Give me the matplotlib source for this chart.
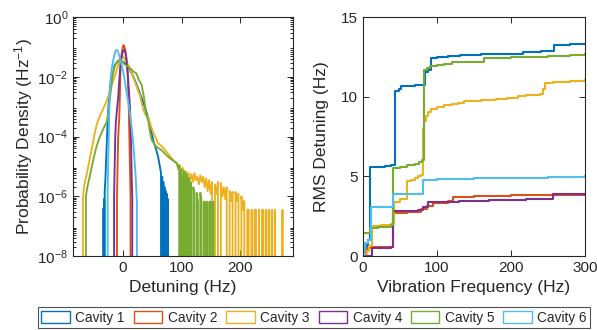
import numpy as np
import matplotlib
matplotlib.use("Agg")
import matplotlib.pyplot as plt
from matplotlib.patches import Patch
from matplotlib.ticker import LogLocator, NullFormatter, FixedLocator

plt.rcParams['font.family'] = ['Liberation Sans', 'DejaVu Sans']
plt.rcParams['mathtext.fontset'] = 'custom'
plt.rcParams['mathtext.rm'] = 'Liberation Sans'
plt.rcParams['mathtext.it'] = 'Liberation Sans:italic'

labels = ["Cavity 1", "Cavity 2", "Cavity 3", "Cavity 4", "Cavity 5", "Cavity 6"]
colors = ["#0072BD", "#D95319", "#EDB120", "#7E2F8E", "#77AC30", "#4DBEEE"]

# ---------- Left panel: probability density vs detuning ----------
det_1 = [-34, -33, -32.5, -32, -31.5, -31, -30, -29, -28, -27, -25, -23, -21, -19, -16, -14,
         -10, -6, -3, 0, 4, 8, 12, 16, 20, 25, 30, 34, 38, 42, 46, 49, 53, 57, 60, 63, 65,
         66, 67, 68, 69, 70, 71, 72, 73, 74, 75, 76, 77, 78]
pdf_1 = [0, 4e-7, 0, 8e-7, 0, 1.5e-6, 3e-6, 1e-5, 3e-5, 1e-4, 8e-4, 2.5e-3, 5e-3, 9e-3, 1.6e-2, 2.5e-2,
         3.0e-2, 3.3e-2, 3.4e-2, 3.2e-2, 2.8e-2, 2.3e-2, 1.7e-2, 1.2e-2, 8e-3, 4.5e-3, 2.5e-3, 1.5e-3,
         9e-4, 5e-4, 2.5e-4, 1.3e-4, 6e-5, 3.5e-5, 2.1e-5, 1e-5, 6e-6,
         0, 4.5e-6, 0, 3e-6, 0, 2e-6, 0, 1.5e-6, 0, 1.2e-6, 0, 8e-7, 0]

det_2 = [-11, -10, -9, -8, -6, -5, -4, -3, -2, -1, 0, 1, 2, 3, 4, 6, 8, 9, 10, 11, 12, 13, 14]
pdf_2 = [0, 1e-6, 1e-5, 1e-4, 5e-4, 3e-3, 2.5e-2, 4e-2, 6e-2, 8e-2, 0.1, 0.115, 0.11, 0.095, 8e-2,
         4e-2, 1.5e-2, 5e-3, 1e-3, 1e-4, 1e-5, 1e-6, 0]

det_3 = [-69, -68, -67, -66, -65, -62, -59, -55, -51, -48, -45, -42, -39, -36, -33, -30, -27, -25,
         -22, -19, -16, -14, -11, -8, -5, -2, 0, 2, 5, 8, 11, 15, 19, 23, 27, 29, 32, 36, 40, 43,
         47, 51, 55, 60, 65, 72, 78, 84, 90,
         92, 94.5, 97, 99.5, 102, 104.5, 107, 109.5, 112, 114.5, 117, 119.5, 122, 124.5, 127, 129.5,
         132, 134.5, 137, 139.5, 142, 144.5, 147, 149.5, 152, 154.5, 157, 159.5, 162, 164.5, 167,
         169.5, 172, 174.5, 177, 179.5, 182, 184.5, 187, 189.5, 192, 194.5, 197, 199.5, 202, 204.5,
         207, 209.5, 212, 214.5, 217, 219.5, 222, 224.5, 227, 229.5, 232, 234.5, 237, 239.5, 242,
         244.5, 247, 249.5, 252, 254.5, 257, 259.5, 262, 264.5, 267, 269.5, 272, 274.5]
pdf_3 = [0, 8e-7, 1.5e-6, 2.2e-6, 2.8e-6, 5e-6, 1e-5, 2.5e-5, 6e-5, 1.3e-4, 2.3e-4, 3.6e-4, 5e-4,
         6.8e-4, 9e-4, 1.2e-3, 1.7e-3, 2.2e-3, 3.5e-3, 5.5e-3, 8e-3, 1e-2, 1.6e-2, 2.5e-2, 3.7e-2,
         4.7e-2, 4.8e-2, 4.2e-2, 3.4e-2, 2.8e-2, 2.0e-2, 1.4e-2, 8e-3, 5e-3, 3e-3, 2.5e-3, 1.3e-3,
         6.8e-4, 5e-4, 4.7e-4, 2.5e-4, 1.5e-4, 1e-4, 6e-5, 5e-5, 3.5e-5, 2.5e-5, 1.8e-5, 1.3e-5,
         1.3e-5, 8e-6, 1.1e-5, 6e-6, 9e-6, 5e-6, 7e-6, 4e-6, 6e-6, 3.5e-6, 5.5e-6, 3e-6, 6e-6, 3.5e-6,
         4.5e-6, 2.5e-6, 5e-6, 3e-6, 4.5e-6, 2e-6, 4e-6, 1.5e-6, 3.5e-6, 1.2e-6, 3e-6, 0, 2.5e-6,
         1.2e-6, 3e-6, 0, 2.8e-6, 1e-6, 2e-6, 8e-7, 2e-6, 0, 1.5e-6, 7e-7, 1.4e-6, 0, 1.4e-6, 7e-7,
         1.2e-6, 0, 1e-6, 3.5e-7, 7e-7, 0, 3.5e-7, 3.5e-7, 0, 3.5e-7, 0, 3.5e-7, 3.5e-7, 0, 3.5e-7,
         0, 3.5e-7, 3.5e-7, 0, 3.5e-7, 0, 3.5e-7, 0, 3.5e-7, 0, 3.5e-7, 0, 0, 0, 0, 3.5e-7, 0]

det_4 = [-16, -15, -14, -13, -12, -10, -8, -6, -4, -2, 0, 2, 4, 6, 8, 10, 12, 13, 14, 15, 16, 17]
pdf_4 = [0, 1e-6, 1e-5, 1e-4, 3e-4, 8e-4, 2e-3, 8e-3, 2.5e-2, 5e-2, 7e-2, 8e-2, 7e-2, 4e-2,
         1.5e-2, 4e-3, 1e-3, 3e-4, 5e-5, 5e-6, 8e-7, 0]

det_5 = [-64, -63, -61, -59, -56, -53, -49, -45, -40, -34, -30, -28, -25, -22, -19, -16.5, -13,
         -10, -7, -3, 0, 4, 9, 14, 18, 23, 27, 32, 36, 40, 43, 46, 49, 55, 60, 66, 75, 83,
         92, 94, 96, 97, 98, 100, 101, 102, 103, 104, 106, 107, 108, 110, 111, 112, 114, 115, 116,
         118, 120, 122, 124, 126, 128, 130, 132, 134, 136, 138, 140, 142, 144, 146, 148, 150, 152,
         154, 156]
pdf_5 = [0, 1e-6, 1.8e-6, 2.8e-6, 5e-6, 1e-5, 2.2e-5, 4.6e-5, 9e-5, 1.7e-4, 2.5e-4, 2.8e-4, 6e-4,
         2e-3, 6e-3, 1.5e-2, 2.5e-2, 3.2e-2, 3.6e-2, 3.4e-2, 3e-2, 2.5e-2, 2.2e-2, 1.8e-2, 1.5e-2,
         1.3e-2, 8e-3, 5.4e-3, 2e-3, 5e-4, 3.6e-4, 1.5e-4, 7.8e-5, 5e-5, 4.2e-5, 3.5e-5, 2.3e-5,
         1.7e-5,
         1.3e-5, 9e-6, 1.1e-5, 0, 7e-6, 8e-6, 0, 5e-6, 0, 7e-6, 4e-6, 0, 6e-6, 3e-6, 0, 4e-6, 2e-6,
         0, 3e-6, 0, 2e-6, 1.3e-6, 0, 1.3e-6, 6.6e-7, 0, 1.3e-6, 6.6e-7, 0, 6.6e-7, 6.6e-7, 0,
         6.6e-7, 0, 6.6e-7, 6.6e-7, 0, 6.6e-7, 0]

det_6 = [-27, -26, -25, -24, -23, -22, -20, -19, -16, -13, -11, -9, -6, -3, 0.5, 4, 7, 9, 12, 15,
         18, 20, 22, 23, 24, 25]
pdf_6 = [0, 1.5e-6, 1.5e-5, 1e-4, 1e-3, 5e-3, 1.2e-2, 1.9e-2, 4e-2, 7e-2, 8e-2, 7.5e-2, 5e-2,
         3e-2, 1.5e-2, 6e-3, 2.5e-3, 1.5e-3, 6e-4, 2e-4, 5e-5, 1.5e-5, 4e-6, 1.5e-6, 6e-7, 0]

# ---------- Right panel: cumulative RMS detuning vs vibration frequency ----------
freq_1 = [0, 2, 5, 7, 9.5, 20, 30, 38, 43, 48, 52, 70, 80, 84, 88, 91.5, 100, 115, 131, 160, 190,
          216, 240, 258, 280, 300]
rms_1 = [0, 0.3, 0.7, 1.0, 5.57, 5.6, 5.65, 5.7, 10.38, 10.5, 10.67, 10.72, 10.75, 11.55, 11.65,
         12.45, 12.5, 12.55, 12.6, 12.65, 12.7, 12.8, 12.85, 13.22, 13.28, 13.3]

freq_2 = [0, 3, 5, 10, 25, 41, 60, 79, 86, 95, 105, 115, 122, 150, 200, 250, 300]
rms_2 = [0, 0.3, 0.5, 0.55, 0.58, 2.7, 2.75, 2.95, 3.15, 3.3, 3.35, 3.45, 3.72, 3.78, 3.82, 3.85,
         3.88]

freq_3 = [0, 2, 6, 8, 11.7, 25, 38, 42, 50, 56, 59.5, 65, 70, 75, 79, 80.5, 81.5, 83, 85, 88, 92,
          99.5, 110, 120, 128, 136, 160, 180, 194, 210, 220, 239, 243, 246, 257, 280, 300]
rms_3 = [0, 0.15, 0.3, 0.6, 1.9, 1.95, 2.0, 3.4, 3.55, 3.6, 4.7, 4.8, 4.9, 5.0, 5.1, 6.5, 8.0, 8.5,
         8.8, 9.05, 9.2, 9.38, 9.45, 9.55, 9.62, 9.73, 9.8, 9.87, 9.94, 10.02, 10.12, 10.2, 10.5,
         10.84, 10.95, 11.0, 11.05]

freq_4 = [0, 11.7, 25, 38, 41, 60, 75, 81.5, 88, 100, 130, 170, 220, 250, 257, 300]
rms_4 = [0, 0.48, 0.5, 0.55, 2.83, 2.85, 2.9, 3.1, 3.38, 3.42, 3.45, 3.5, 3.55, 3.6, 3.88, 3.9]

freq_5 = [0, 0.5, 10, 20, 30, 38, 41, 50, 60, 70, 76, 80, 82, 86, 90, 100, 110, 120, 140, 163.5,
          200, 250, 280, 300]
rms_5 = [0, 1.46, 1.76, 1.8, 1.85, 1.95, 5.52, 5.6, 5.7, 5.8, 5.9, 6.05, 11.67, 11.8, 11.9, 12.0,
         12.08, 12.15, 12.18, 12.41, 12.48, 12.55, 12.6, 12.65]

freq_6 = [0, 1, 2.7, 7, 10.4, 25, 41, 60, 80.6, 100, 150, 250, 300]
rms_6 = [0, 0.4, 0.8, 1.0, 3.08, 3.1, 3.9, 3.92, 4.8, 4.85, 4.9, 4.95, 5.0]

det_all = [det_1, det_2, det_3, det_4, det_5, det_6]
pdf_all = [pdf_1, pdf_2, pdf_3, pdf_4, pdf_5, pdf_6]
freq_all = [freq_1, freq_2, freq_3, freq_4, freq_5, freq_6]
rms_all = [rms_1, rms_2, rms_3, rms_4, rms_5, rms_6]

axc = "#262626"
fig = plt.figure(figsize=(5.97, 3.30), dpi=100)
ax1 = fig.add_axes([0.1223, 0.2242, 0.3685, 0.7242])
ax2 = fig.add_axes([0.608, 0.2242, 0.372, 0.7242])

for x, p, c in zip(det_all, pdf_all, colors):
    ax1.plot(x, p, color=c, lw=1.35)
ax1.set_yscale('log', nonpositive='clip')
ax1.set_xlim(-85, 290)
ax1.set_ylim(1e-8, 1)
ax1.set_xticks([0, 100, 200])
ax1.yaxis.set_major_locator(FixedLocator([1e-8, 1e-6, 1e-4, 1e-2, 1]))
ax1.yaxis.set_minor_locator(LogLocator(base=10, subs=np.arange(2, 10), numticks=20))
ax1.yaxis.set_minor_formatter(NullFormatter())
ax1.set_xlabel("Detuning (Hz)", fontsize=12.5, color=axc, labelpad=4)
ax1.set_ylabel("Probability Density (Hz$^{-1}$)", fontsize=12.5, color=axc, labelpad=2)

for f, r, c in zip(freq_all, rms_all, colors):
    ax2.plot(f, r, color=c, lw=1.5, drawstyle='steps-post')
ax2.set_xlim(0, 300)
ax2.set_ylim(0, 15)
ax2.set_xticks([0, 100, 200, 300])
ax2.set_yticks([0, 5, 10, 15])
ax2.set_xlabel("Vibration Frequency (Hz)", fontsize=12.5, color=axc, labelpad=4)
ax2.set_ylabel("RMS Detuning (Hz)", fontsize=12.5, color=axc, labelpad=9)

for ax in (ax1, ax2):
    for s in ax.spines.values():
        s.set_color(axc)
        s.set_linewidth(0.8)
    ax.tick_params(which='both', direction='in', top=True, right=True, colors=axc,
                   labelsize=11, width=0.7)
    ax.tick_params(which='major', length=4)
    ax.tick_params(which='minor', length=2)
    for lab in ax.get_xticklabels() + ax.get_yticklabels():
        lab.set_color(axc)

handles = [Patch(facecolor='white', edgecolor=c, linewidth=1.0) for c in colors]
leg = fig.legend(handles, labels, loc='lower left', bbox_to_anchor=(0.0637, 0.006, 0.925, 0.061),
                 mode='expand', ncol=6, fontsize=9.8, frameon=True, fancybox=False,
                 edgecolor=axc, handlelength=2.1, handleheight=0.95, handletextpad=0.4,
                 borderpad=0.25, borderaxespad=0, columnspacing=0.6)
leg.get_frame().set_linewidth(0.8)
for t in leg.get_texts():
    t.set_color(axc)

fig.savefig("out.png", dpi=100)
